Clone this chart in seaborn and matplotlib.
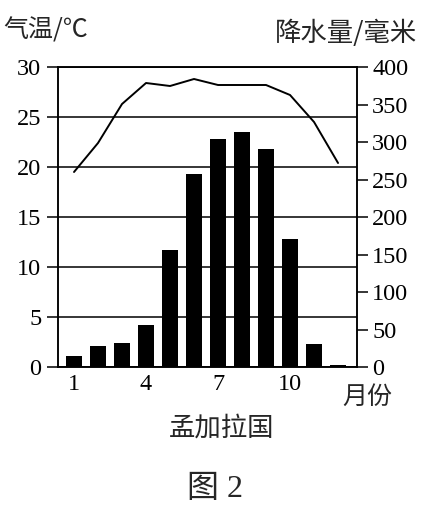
import matplotlib
matplotlib.use("Agg")
import matplotlib.pyplot as plt
import seaborn as sns
import pandas as pd

# data (孟加拉国 climate chart)
months = [1, 2, 3, 4, 5, 6, 7, 8, 9, 10, 11, 12]
temperature = [19.5, 22.4, 26.3, 28.4, 28.1, 28.8, 28.2, 28.2, 28.2, 27.2, 24.5, 20.4]
precipitation = [15, 28, 32, 56, 156, 257, 304, 313, 291, 171, 31, 3]
month_ticks = [1, 4, 7, 10]
temp_ticks = [0, 5, 10, 15, 20, 25, 30]
precip_ticks = [0, 50, 100, 150, 200, 250, 300, 350, 400]

df = pd.DataFrame({'month': months, 'temp': temperature, 'precip': precipitation})

sns.set_theme(style="white")
plt.rcParams['font.family'] = ['Liberation Serif', 'Noto Sans CJK SC', 'DejaVu Sans']
cjk = ['Noto Sans CJK SC', 'Liberation Serif', 'DejaVu Sans']

fig = plt.figure(figsize=(4.29, 5.09), dpi=100)
ax = fig.add_axes([58 / 429, 142 / 509, 299 / 429, 300 / 509])
ax2 = ax.twinx()

# precipitation bars on the right axis
sns.barplot(data=df, x='month', y='precip', ax=ax2, native_scale=True,
            color='black', width=0.63, saturation=1, linewidth=0)
ax2.set_ylim(0, 400)
ax2.set_yticks(precip_ticks)
ax2.set_ylabel('')

# temperature curve on the left axis
sns.lineplot(data=df, x='month', y='temp', ax=ax, color='black', linewidth=1.4)
ax.set_ylim(0, 30)
ax.set_yticks(temp_ticks)
ax.set_ylabel('')
ax.set_xlabel('')
ax2.set_xlabel('')
ax.yaxis.grid(True, color='black', linewidth=1.1)
ax.set_axisbelow(True)

ax.set_xlim(1 - 0.667, 12.79)
ax2.set_xlim(1 - 0.667, 12.79)
ax.set_xticks(month_ticks)
ax.set_xticklabels([str(m) for m in month_ticks])

for a in (ax, ax2):
    for s in a.spines.values():
        s.set_color('black')
        s.set_linewidth(1.1)
ax.tick_params(axis='y', direction='out', length=8, width=1.1, pad=4, labelsize=17.5, colors='black')
ax2.tick_params(axis='y', direction='out', length=8, width=1.1, pad=3, labelsize=17.5, colors='black')
ax.tick_params(axis='x', length=0, pad=5, labelsize=17.5, colors='black')

fig.text(3 / 429, 1 - 31 / 509, '气温/℃', fontsize=18, family=cjk, ha='left', va='center')
fig.text(417 / 429, 1 - 33 / 509, '降水量/毫米', fontsize=19, family=cjk, ha='right', va='center')
fig.text(367 / 429, 1 - 397 / 509, '月份', fontsize=18, family=cjk, ha='center', va='center')
fig.text(222 / 429, 1 - 428 / 509, '孟加拉国', fontsize=19, family=cjk, ha='center', va='center')
fig.text(215 / 429, 1 - 489 / 509, '图 2', fontsize=23, ha='center', va='center')

fig.savefig('out.png', dpi=100, facecolor='white')
